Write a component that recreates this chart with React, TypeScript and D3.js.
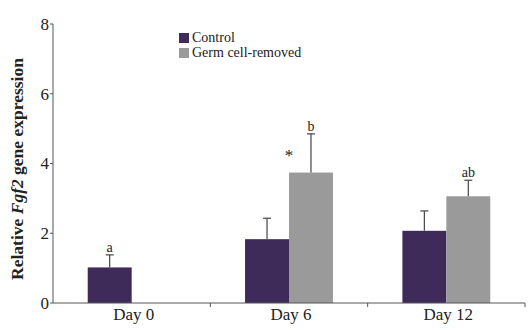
import React from "react";
import * as d3 from "d3";

const categories = ["Day 0", "Day 6", "Day 12"];
const series = ["Control", "Germ cell-removed"];
const controlValues = [1.02, 1.83, 2.07];
const controlErrors = [0.36, 0.6, 0.57];
const removedValues = [null, 3.74, 3.06];
const removedErrors = [null, 1.11, 0.46];
const controlLabels = ["a", "", ""];
const removedLabels = ["", "b", "ab"];
const yTicks = [0, 2, 4, 6, 8];
const colors = ["#3f2b5a", "#9a9a9a"];

export default function App() {
  const W = 532, H = 330;
  const left = 53, right = 525, top = 24, bottom = 303;
  const x = d3.scaleBand<string>().domain(categories).range([left, right]).padding(0);
  const xs = d3.scaleBand<string>().domain(series).range([0, x.bandwidth()]).paddingInner(0).paddingOuter(0.79);
  const y = d3.scaleLinear().domain([0, 8]).range([bottom, top]);
  const font = "'Liberation Serif', 'Times New Roman', serif";
  const axisColor = "#555";

  const data = categories.map((c, i) => ({
    c,
    vals: [
      { v: controlValues[i], e: controlErrors[i], l: controlLabels[i] },
      { v: removedValues[i], e: removedErrors[i], l: removedLabels[i] },
    ],
  }));

  return (
    <svg width={W} height={H} style={{ position: "absolute", left: 0, top: 0, background: "#fff" }} fontFamily={font}>
      {data.map((d) =>
        d.vals.map((s, j) => {
          if (s.v == null) return null;
          const bx = (x(d.c) as number) + (xs(series[j]) as number);
          const bw = xs.bandwidth();
          const cx = bx + bw / 2;
          const yTop = y(s.v);
          const yErr = y(s.v + (s.e as number));
          return (
            <g key={d.c + j}>
              <rect x={bx} y={yTop} width={bw} height={bottom - yTop} fill={colors[j]} />
              <line x1={cx} x2={cx} y1={yTop} y2={yErr} stroke="#444" strokeWidth={1.2} />
              <line x1={cx - 4} x2={cx + 4} y1={yErr} y2={yErr} stroke="#444" strokeWidth={1.2} />
              {s.l ? (
                <text x={cx} y={yErr - 3} textAnchor="middle" fontSize={14} fill="#222">
                  {s.l}
                </text>
              ) : null}
            </g>
          );
        })
      )}
      <text
        x={(x("Day 6") as number) + (xs(series[0]) as number) + xs.bandwidth()}
        y={y(3.74) - 12}
        textAnchor="middle"
        fontSize={17}
        fill="#222"
      >
        *
      </text>
      <line x1={left} x2={left} y1={top} y2={bottom} stroke={axisColor} strokeWidth={1} />
      {yTicks.map((t) => (
        <g key={t}>
          <line x1={left - 3} x2={left} y1={y(t)} y2={y(t)} stroke={axisColor} />
          <text x={left - 4} y={y(t)} dy="0.35em" textAnchor="end" fontSize={17} fill="#222">
            {t}
          </text>
        </g>
      ))}
      <line x1={left} x2={right} y1={bottom} y2={bottom} stroke={axisColor} strokeWidth={1} />
      {categories.map((c) => (
        <g key={c}>
          <line
            x1={(x(c) as number) + x.bandwidth()}
            x2={(x(c) as number) + x.bandwidth()}
            y1={bottom}
            y2={bottom + 4}
            stroke={axisColor}
          />
          <text x={(x(c) as number) + x.bandwidth() / 2 + 2} y={320} textAnchor="middle" fontSize={17} fill="#222">
            {c}
          </text>
        </g>
      ))}
      <text
        transform={`translate(23,169) rotate(-90)`}
        textAnchor="middle"
        fontSize={17.5}
        fontWeight="bold"
        fill="#222"
      >
        Relative <tspan fontStyle="italic">Fgf2</tspan> gene expression
      </text>
      {series.map((s, i) => (
        <g key={s}>
          <rect x={179} y={33 + i * 15} width={10} height={10} fill={colors[i]} />
          <text x={192} y={42 + i * 15} fontSize={14} fill="#222">
            {s}
          </text>
        </g>
      ))}
    </svg>
  );
}
